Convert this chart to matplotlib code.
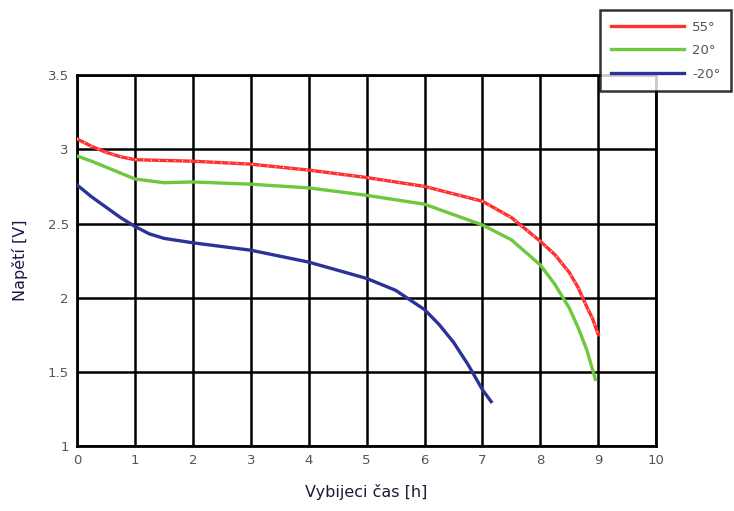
import matplotlib.pyplot as plt

# discharge curves
hours_55 = [0, 0.25, 0.5, 0.75, 1, 1.5, 2, 3, 4, 5, 6, 7, 7.5, 8, 8.25, 8.5, 8.65, 8.8, 8.9, 9.0]
volts_55 = [3.07, 3.02, 2.98, 2.95, 2.93, 2.925, 2.92, 2.90, 2.86, 2.81, 2.75, 2.65, 2.54, 2.38,
            2.29, 2.17, 2.07, 1.94, 1.86, 1.75]

hours_20 = [0, 0.25, 0.5, 0.75, 1, 1.5, 2, 3, 4, 5, 6, 7, 7.5, 8, 8.25, 8.5, 8.65, 8.8, 8.95]
volts_20 = [2.955, 2.92, 2.88, 2.84, 2.80, 2.775, 2.78, 2.765, 2.74, 2.69, 2.63, 2.49, 2.39, 2.22,
            2.09, 1.93, 1.80, 1.65, 1.45]

hours_m20 = [0, 0.25, 0.5, 0.75, 1, 1.25, 1.5, 2, 3, 4, 5, 5.5, 6, 6.25, 6.5, 6.75, 7, 7.15]
volts_m20 = [2.76, 2.68, 2.61, 2.54, 2.48, 2.43, 2.40, 2.37, 2.32, 2.24, 2.13, 2.05, 1.92, 1.82,
             1.70, 1.55, 1.38, 1.30]

labels = ['55°', '20°', '-20°']
x_ticks = list(range(0, 11))
y_ticks = [1, 1.5, 2, 2.5, 3, 3.5]
y_tick_labels = ['1', '1.5', '2', '2.5', '3', '3.5']

fig = plt.figure(figsize=(7.34, 5.11), dpi=100)
ax = fig.add_axes([0.105, 0.127, 0.789, 0.726])

l1, = ax.plot(hours_55, volts_55, color='#ff3030', lw=2.4, zorder=3)
ax.plot(hours_55, volts_55, color='white', lw=0.8, dashes=(1, 6), zorder=4)
l2, = ax.plot(hours_20, volts_20, color='#6cc83c', lw=2.4, zorder=3)
l3, = ax.plot(hours_m20, volts_m20, color='#2b3399', lw=2.4, zorder=3)

ax.set_xlim(0, 10)
ax.set_ylim(1, 3.5)
ax.set_xticks(x_ticks)
ax.set_yticks(y_ticks)
ax.set_yticklabels(y_tick_labels)
ax.grid(True, color='black', lw=1.8, zorder=1)
for s in ax.spines.values():
    s.set_linewidth(2)
ax.tick_params(direction='in', length=3, colors='black', labelcolor='#555555',
               labelsize=9.5, pad=6)

ax.set_xlabel('Vybijeci čas [h]', fontsize=11.5, color='#1a1a3a', labelpad=12)
ax.set_ylabel('Napětí [V]', fontsize=11.5, color='#1a1a4a', labelpad=14)

leg = fig.legend([l1, l2, l3], labels, loc='upper left',
                 bbox_to_anchor=(600 / 734, 1 - 10 / 511), borderaxespad=0,
                 handlelength=5.6, handletextpad=0.6, fontsize=9.5,
                 labelcolor='#555555', frameon=True, fancybox=False,
                 edgecolor='black', borderpad=0.8, labelspacing=0.8)
leg.get_frame().set_linewidth(1.8)

fig.savefig('out.png', dpi=100)
